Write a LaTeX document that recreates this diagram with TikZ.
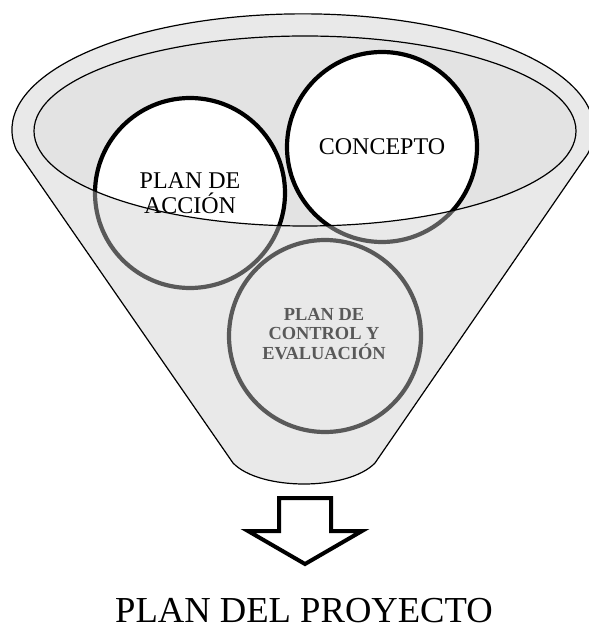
\documentclass[tikz,border=0pt]{standalone}
\usepackage{fontspec}
\setmainfont{Liberation Serif}
\definecolor{embudo}{HTML}{E9E9E9}
\definecolor{boca}{HTML}{E3E3E3}
\definecolor{grisoscuro}{HTML}{595959}

\begin{document}
\begin{tikzpicture}[x=0.5pt,y=-0.5pt,
    contorno/.style={draw=black,line width=0.6pt},
    aro/.style={line width=2.1pt},
    texto/.style={align=center,inner sep=0pt,font=\fontsize{12}{12.5}\selectfont}]
        \useasboundingbox (0,0) rectangle (588,630);
        % 漏斗
        \filldraw [fill=embudo,contorno] (16.4,150) arc[start angle=170,end angle=372,x radius=291,y radius=116]
            -- (375,463) .. controls (348,491) and (260,491) .. (233,463) -- cycle;
        \coordinate (cAccion) at (190,193);
        \coordinate (cConcepto) at (382,147);
        \coordinate (cControl) at (325,336);
        % 圆 (下半部分)
        \draw [aro,grisoscuro] (cAccion) circle (95);
        \draw [aro,grisoscuro] (cConcepto) circle (95);
        % 漏斗口
        \fill [boca] (305,131) ellipse (271 and 95);
        \begin{scope}
            \clip (305,131) ellipse (271 and 95);
            \filldraw [aro,fill=white] (cAccion) circle (95);
            \filldraw [aro,fill=white] (cConcepto) circle (95);
        \end{scope}
        \draw [contorno] (305,131) ellipse (271 and 95);
        \draw [aro,grisoscuro] (cControl) circle (96);
        % 文字
        \node [texto] (accion) at (cAccion) {PLAN DE\\ACCIÓN};
        \node [texto] (concepto) at (cConcepto) {CONCEPTO};
        \node [texto,text=grisoscuro,font=\bfseries\fontsize{9.2}{9.8}\selectfont] (control) at (324,334) {PLAN DE\\CONTROL Y\\EVALUACIÓN};
        % 箭头
        \draw [line width=2pt,line join=miter] (279,498) -- (331,498) -- (331,531) -- (362,531)
            -- (305,564) -- (248,531) -- (279,531) -- cycle;
        \node [anchor=base,inner sep=0pt,font=\fontsize{18.3}{20}\selectfont] (proyecto) at (304,622) {PLAN DEL PROYECTO};
\end{tikzpicture}
\end{document}
